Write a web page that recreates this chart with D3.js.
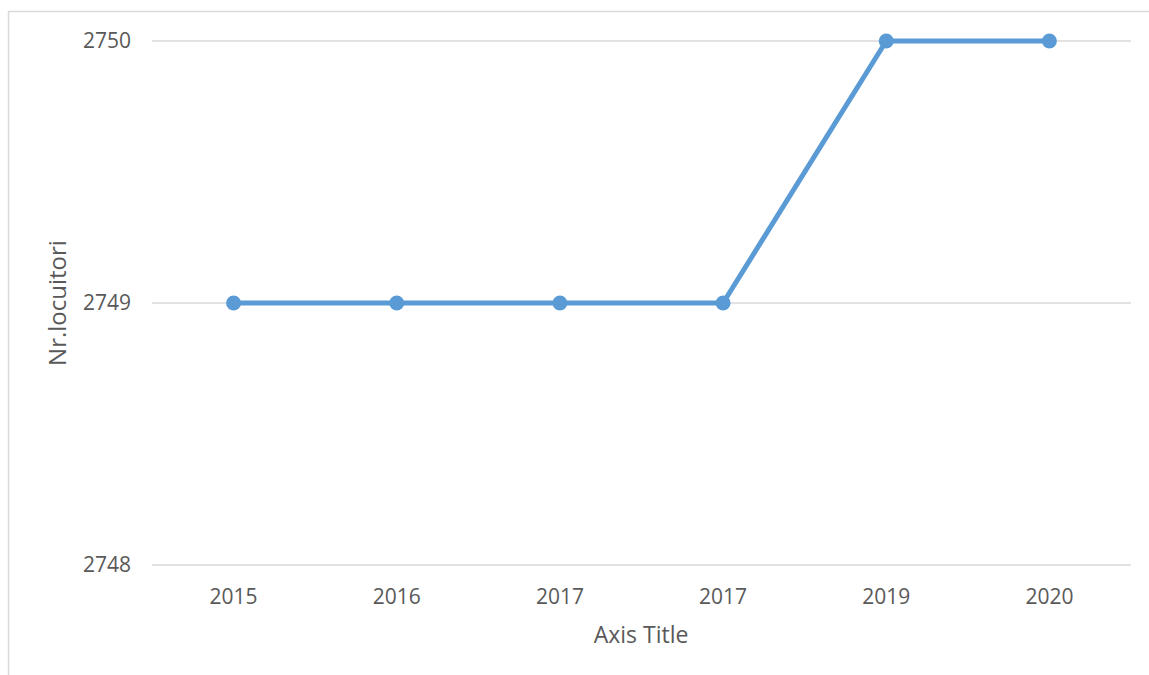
<!DOCTYPE html>
<html>
<head>
<meta charset="utf-8">
<script src="https://cdn.jsdelivr.net/npm/d3@7"></script>
<style>
  body { margin: 0; background: #fff; }
  svg { display: block; }
</style>
</head>
<body>
<svg width="1149" height="675"></svg>
<script>
var svg = d3.select('svg');

// categories as shown on the chart (note the repeated 2017)
var years = ["2015", "2016", "2017", "2017", "2019", "2020"]
var values = [2749, 2749, 2749, 2749, 2750, 2750]
var yTicks = [2748, 2749, 2750]

var margin = {left: 152, right: 1131, top: 41, bottom: 565}
var font = "'Open Sans', 'Noto Sans', sans-serif"
var textColor = '#595959'

// outer chart frame (open to the right and bottom)
svg.append('rect')
	.attr('x', 8.5).attr('y', 11.5)
	.attr('width', 1200).attr('height', 700)
	.attr('fill', 'none')
	.attr('stroke', '#d9d9d9')
	.attr('stroke-width', 1.5)

var x = d3.scaleBand()
	.domain(d3.range(years.length))
	.range([margin.left, margin.right])

var y = d3.scaleLinear()
	.domain([2748, 2750])
	.range([margin.bottom, margin.top])

// gridlines
svg.append('g')
	.selectAll('line')
	.data(yTicks)
	.enter()
	.append('line')
	.attr('x1', margin.left)
	.attr('x2', margin.right)
	.attr('y1', function(d) { return y(d) })
	.attr('y2', function(d) { return y(d) })
	.attr('stroke', '#d9d9d9')
	.attr('stroke-width', 1.5)

// y tick labels
svg.append('g')
	.selectAll('text')
	.data(yTicks)
	.enter()
	.append('text')
	.text(function(d) { return d })
	.attr('x', 131)
	.attr('y', function(d) { return y(d) })
	.attr('dy', '0.35em')
	.attr('text-anchor', 'end')
	.attr('font-family', font)
	.attr('font-size', 21)
	.attr('fill', textColor)

// x tick labels
svg.append('g')
	.selectAll('text')
	.data(years)
	.enter()
	.append('text')
	.text(function(d) { return d })
	.attr('x', function(d, i) { return x(i) + x.bandwidth() / 2 })
	.attr('y', 597)
	.attr('dy', '0.35em')
	.attr('text-anchor', 'middle')
	.attr('font-family', font)
	.attr('font-size', 21)
	.attr('fill', textColor)

// axis titles
svg.append('text')
	.text('Axis Title')
	.attr('x', 641)
	.attr('y', 635)
	.attr('dy', '0.35em')
	.attr('text-anchor', 'middle')
	.attr('font-family', font)
	.attr('font-size', 23)
	.attr('fill', textColor)

svg.append('text')
	.text('Nr.locuitori')
	.attr('transform', 'translate(66,303) rotate(-90)')
	.attr('text-anchor', 'middle')
	.attr('font-family', font)
	.attr('font-size', 24)
	.attr('fill', textColor)

// series line
var line = d3.line()
	.x(function(d, i) { return x(i) + x.bandwidth() / 2 })
	.y(function(d) { return y(d) })

svg.append('path')
	.datum(values)
	.attr('d', line)
	.attr('fill', 'none')
	.attr('stroke', '#5b9bd5')
	.attr('stroke-width', 5)
	.attr('stroke-linejoin', 'round')

svg.append('g')
	.selectAll('circle')
	.data(values)
	.enter()
	.append('circle')
	.attr('cx', function(d, i) { return x(i) + x.bandwidth() / 2 })
	.attr('cy', function(d) { return y(d) })
	.attr('r', 7.5)
	.attr('fill', '#5b9bd5')
</script>
</body>
</html>
